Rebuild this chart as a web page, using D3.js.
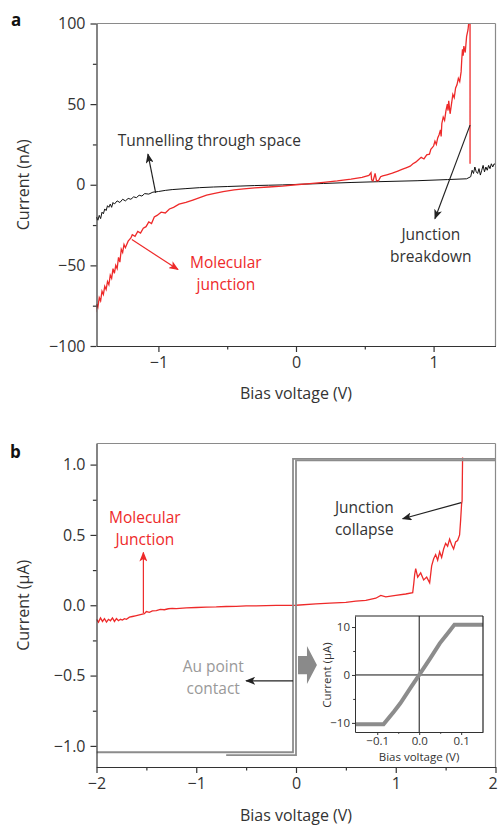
<!DOCTYPE html>
<html>
<head>
<meta charset="utf-8">
<script src="https://cdn.jsdelivr.net/npm/d3@7"></script>
<style>
body{margin:0;background:#fff}
text{font-family:"Open Sans",sans-serif}
</style>
</head>
<body>
<svg id="chart" width="499" height="830"></svg>
<script>
// ---- data: panel a, [bias V, current nA]
const molecularA = [[-1.455,-79],[-1.45,-74],[-1.44,-76],[-1.43,-70],[-1.42,-72],[-1.41,-66],[-1.40,-68],[-1.39,-63],[-1.38,-65],[-1.37,-60],[-1.36,-62],[-1.35,-56],[-1.34,-58],[-1.33,-52],[-1.32,-55],[-1.31,-50],[-1.30,-52],[-1.29,-45],[-1.28,-48],[-1.27,-40],[-1.26,-42],[-1.25,-37],[-1.24,-39],[-1.22,-35],[-1.20,-33],[-1.19,-31],[-1.17,-32],[-1.15,-29],[-1.13,-30],[-1.11,-27],[-1.09,-26],[-1.07,-23],[-1.05,-24],[-1.03,-20],[-1.01,-19],[-0.98,-17],[-0.95,-17.5],[-0.92,-15],[-0.89,-14],[-0.85,-12],[-0.80,-11],[-0.75,-9.5],[-0.70,-8],[-0.65,-6.5],[-0.60,-5.5],[-0.53,-4.2],[-0.45,-3.2],[-0.38,-2.6],[-0.30,-2.0],[-0.20,-1.4],[-0.10,-0.8],[0,0],[0.1,0.7],[0.2,1.5],[0.3,2.4],[0.4,3.5],[0.48,4.6],[0.53,5.8],[0.545,7.5],[0.55,3],[0.56,2.4],[0.575,7],[0.585,2.5],[0.60,2.6],[0.615,5],[0.63,5.5],[0.66,6.2],[0.70,7.2],[0.74,8.5],[0.77,9.5],[0.80,10.5],[0.83,11.5],[0.85,13],[0.87,14],[0.89,15.5],[0.91,17],[0.93,16],[0.95,18.5],[0.97,19],[0.98,22],[1.0,24],[1.01,27],[1.02,25],[1.03,29],[1.04,31],[1.05,34],[1.055,30],[1.06,38],[1.07,42],[1.08,40],[1.09,46],[1.10,50],[1.105,46],[1.11,52],[1.12,44],[1.13,50],[1.14,56],[1.15,54],[1.16,60],[1.17,62],[1.18,66],[1.19,64],[1.20,70],[1.205,78],[1.21,84],[1.215,80],[1.22,86],[1.23,82],[1.24,92],[1.25,96],[1.26,104],[1.265,104],[1.265,13]];
const tunnelA = [[-1.455,-22],[-1.45,-20],[-1.44,-22],[-1.43,-19],[-1.42,-21],[-1.41,-17],[-1.40,-18],[-1.39,-15],[-1.38,-16],[-1.37,-13],[-1.36,-14],[-1.35,-12],[-1.34,-14],[-1.33,-11],[-1.32,-12],[-1.30,-10],[-1.28,-11],[-1.26,-9],[-1.24,-10],[-1.22,-8.5],[-1.20,-9],[-1.18,-7.5],[-1.16,-8],[-1.14,-6.5],[-1.12,-7],[-1.10,-5.5],[-1.07,-5.8],[-1.04,-4.6],[-1.0,-4.2],[-0.95,-3.5],[-0.9,-3.0],[-0.8,-2.4],[-0.7,-1.8],[-0.6,-1.4],[-0.5,-1.1],[-0.4,-0.8],[-0.3,-0.5],[-0.2,-0.3],[-0.1,-0.1],[0,0.2],[0.2,0.8],[0.4,1.4],[0.6,1.9],[0.88,2.5],[1.1,3.2],[1.24,3.7],[1.27,5],[1.28,9],[1.29,7],[1.30,11],[1.31,8],[1.32,7],[1.33,10],[1.34,6],[1.35,9],[1.36,12],[1.37,8],[1.38,11],[1.39,9],[1.40,12],[1.41,10],[1.42,13],[1.43,11],[1.44,13],[1.455,12]];

// ---- data: panel b, [bias V, current µA]
const molecularB = [[-2,-0.1],[-1.98,-0.12],[-1.96,-0.09],[-1.94,-0.115],[-1.92,-0.095],[-1.90,-0.12],[-1.88,-0.1],[-1.86,-0.11],[-1.84,-0.09],[-1.82,-0.115],[-1.80,-0.095],[-1.78,-0.11],[-1.76,-0.1],[-1.74,-0.105],[-1.72,-0.095],[-1.70,-0.1],[-1.67,-0.085],[-1.64,-0.08],[-1.61,-0.075],[-1.58,-0.07],[-1.55,-0.065],[-1.52,-0.06],[-1.50,-0.045],[-1.47,-0.05],[-1.44,-0.04],[-1.40,-0.038],[-1.36,-0.03],[-1.32,-0.032],[-1.28,-0.025],[-1.24,-0.022],[-1.2,-0.024],[-1.1,-0.018],[-1.0,-0.016],[-0.9,-0.013],[-0.8,-0.012],[-0.7,-0.009],[-0.6,-0.008],[-0.5,-0.005],[-0.4,-0.004],[-0.2,-0.001],[0,0],[0.2,0.01],[0.34,0.015],[0.5,0.02],[0.6,0.03],[0.7,0.035],[0.8,0.05],[0.85,0.07],[0.9,0.06],[1.0,0.07],[1.1,0.08],[1.17,0.09],[1.18,0.15],[1.19,0.22],[1.2,0.26],[1.22,0.2],[1.25,0.23],[1.28,0.18],[1.31,0.2],[1.34,0.16],[1.36,0.28],[1.38,0.33],[1.40,0.36],[1.42,0.32],[1.44,0.38],[1.46,0.34],[1.48,0.4],[1.5,0.44],[1.52,0.42],[1.54,0.47],[1.56,0.43],[1.58,0.4],[1.60,0.45],[1.62,0.46],[1.64,0.5],[1.65,0.6],[1.66,0.72],[1.665,0.74],[1.67,1.05]];
const auContact1 = [[-2,-1.045],[-0.03,-1.045],[-0.03,1.04],[2,1.04]];
const auContact2 = [[-0.7,-1.065],[0,-1.065],[0,1.03],[2,1.03]];
// inset, [bias V, current µA]
const insetAu = [[-0.153,-10.3],[-0.085,-10.3],[-0.06,-7.6],[-0.045,-5.9],[-0.02,-2.6],[0,0],[0.025,3.3],[0.049,6.6],[0.07,8.9],[0.084,10.5],[0.152,10.5]];

// ---- ticks
const ticksAx = [-1, 0, 1], minorAx = [-0.5, 0.5];
const ticksAy = [-100, -50, 0, 50, 100], minorAy = [-75, -25, 25, 75];
const ticksBx = [-2, -1, 0, 1, 2], minorBx = [-1.5, -0.5, 0.5, 1.5];
const ticksBy = [-1.0, -0.5, 0.0, 0.5, 1.0], minorBy = [-0.75, -0.25, 0.25, 0.75];
const ticksIx = [-0.1, 0.0, 0.1], minorIx = [-0.05, 0.05];
const ticksIy = [-10, 0, 10], minorIy = [-5, 5];

const RED = "#ee2a2a", INK = "#333", FRAME = "#8a8a8a", AU = "#8c8c8c";

const svg = d3.select("#chart");
const defs = svg.append("defs");
function marker(id, color) {
  defs.append("marker").attr("id", id).attr("viewBox", "0 0 10 8")
    .attr("refX", 9).attr("refY", 4).attr("markerWidth", 10).attr("markerHeight", 8)
    .attr("markerUnits", "userSpaceOnUse").attr("orient", "auto")
    .append("path").attr("d", "M0,0 L10,4 L0,8 L2.5,4 Z").attr("fill", color);
}
marker("arrBlack", "#222");
marker("arrRed", RED);

function frame(g, x, y, o) {
  const [x0, x1] = x.range(), [y1, y0] = y.range();
  g.append("line").attr("x1", x0).attr("x2", x1).attr("y1", y0).attr("y2", y0).attr("stroke", o.frame).attr("stroke-width", 1.2);
  g.append("line").attr("x1", x1).attr("x2", x1).attr("y1", y0).attr("y2", y1).attr("stroke", o.frame).attr("stroke-width", 1.2);
  const ax = g.append("g").attr("transform", `translate(0,${y1})`)
    .call(d3.axisBottom(x).tickValues(o.tx).tickSize(o.ts).tickSizeOuter(0).tickPadding(o.pad).tickFormat(o.fx));
  g.append("g").attr("transform", `translate(0,${y1})`)
    .call(d3.axisBottom(x).tickValues(o.mx).tickSize(o.ts * 0.6).tickSizeOuter(0).tickFormat(""))
    .select(".domain").remove();
  g.append("g").attr("transform", `translate(${x0},0)`)
    .call(d3.axisLeft(y).tickValues(o.ty).tickSize(o.ts).tickSizeOuter(0).tickPadding(o.pad).tickFormat(o.fy));
  g.append("g").attr("transform", `translate(${x0},0)`)
    .call(d3.axisLeft(y).tickValues(o.my).tickSize(o.ts * 0.6).tickSizeOuter(0).tickFormat(""))
    .select(".domain").remove();
  g.selectAll(".tick line, .domain").attr("stroke", INK).attr("stroke-width", o.sw);
  g.selectAll(".tick text").attr("fill", INK).attr("font-size", o.fs).attr("font-family", '"Open Sans",sans-serif');
  return ax;
}

const fmtMinus = d => d3.format("")(d);
const line = (x, y) => d3.line().x(d => x(d[0])).y(d => y(d[1]));

// ================= panel a
const xa = d3.scaleLinear().domain([-1.45, 1.45]).range([96.5, 495.5]);
const ya = d3.scaleLinear().domain([-100, 100]).range([346, 23.5]);
const ga = svg.append("g");
defs.append("clipPath").attr("id", "clipA").append("rect")
  .attr("x", 96.5).attr("y", 23.5).attr("width", 399).attr("height", 322.5);
ga.append("path").datum(tunnelA).attr("d", line(xa, ya)).attr("fill", "none")
  .attr("stroke", "#111").attr("stroke-width", 1).attr("clip-path", "url(#clipA)");
ga.append("path").datum(molecularA).attr("d", line(xa, ya)).attr("fill", "none")
  .attr("stroke", RED).attr("stroke-width", 1.3).attr("clip-path", "url(#clipA)");
frame(ga, xa, ya, {frame: FRAME, tx: ticksAx, mx: minorAx, ty: ticksAy, my: minorAy, ts: 6, pad: 5, fs: 16, sw: 1.2, fx: fmtMinus, fy: fmtMinus});

ga.append("text").attr("x", 296).attr("y", 399).attr("text-anchor", "middle").attr("font-size", 16).attr("fill", INK).text("Bias voltage (V)");
ga.append("text").attr("transform", `translate(29,${ya(0)}) rotate(-90)`).attr("text-anchor", "middle").attr("font-size", 16).attr("fill", INK).text("Current (nA)");
ga.append("text").attr("x", 11).attr("y", 26).attr("font-size", 17).attr("font-weight", "bold").attr("fill", "#111").text("a");

const notesA = [
  {lines: ["Tunnelling through space"], v: -0.63, i: 24, color: INK},
  {lines: ["Molecular", "junction"], v: -0.51, i: -51.5, color: RED},
  {lines: ["Junction", "breakdown"], v: 0.98, i: -34, color: INK}
];
const arrowsA = [
  {from: [-1.02, -5], to: [-1.076, 19], m: "arrBlack", c: "#222"},
  {from: [-1.193, -34], to: [-0.858, -52.6], m: "arrRed", c: RED},
  {from: [1.265, 37], to: [1.01, -21], m: "arrBlack", c: "#222"}
];

// ================= panel b
const xb = d3.scaleLinear().domain([-2, 2]).range([96.5, 495.5]);
const yb = d3.scaleLinear().domain([-1.15, 1.15]).range([767, 443.5]);
const gb = svg.append("g");
defs.append("clipPath").attr("id", "clipB").append("rect")
  .attr("x", 96.5).attr("y", 443.5).attr("width", 399).attr("height", 323.5);
gb.append("path").datum(molecularB).attr("d", line(xb, yb)).attr("fill", "none")
  .attr("stroke", RED).attr("stroke-width", 1.3).attr("clip-path", "url(#clipB)");
[auContact2, auContact1].forEach(tr => {
  gb.append("path").datum(tr).attr("d", line(xb, yb)).attr("fill", "none")
    .attr("stroke", AU).attr("stroke-width", 1.8).attr("clip-path", "url(#clipB)");
});
const axb = frame(gb, xb, yb, {frame: FRAME, tx: ticksBx, mx: minorBx, ty: ticksBy, my: minorBy, ts: 6, pad: 5, fs: 16, sw: 1.2, fx: fmtMinus, fy: d3.format(".1f")});
// last label sits on the page edge, pull it in a little
axb.selectAll(".tick text").filter(d => d === 2).attr("dx", -3);

gb.append("text").attr("x", 296).attr("y", 821).attr("text-anchor", "middle").attr("font-size", 16).attr("fill", INK).text("Bias voltage (V)");
gb.append("text").attr("transform", `translate(29,${yb(0)}) rotate(-90)`).attr("text-anchor", "middle").attr("font-size", 16).attr("fill", INK).text("Current (μA)");
gb.append("text").attr("x", 10).attr("y", 458).attr("font-size", 17).attr("font-weight", "bold").attr("fill", "#111").text("b");

const notesB = [
  {lines: ["Molecular", "Junction"], v: -1.515, i: 0.587, color: RED},
  {lines: ["Junction", "collapse"], v: 0.685, i: 0.657, color: INK},
  {lines: ["Au point", "contact"], v: -0.83, i: -0.473, color: "#999"}
];
const arrowsB = [
  {from: [-1.53, -0.055], to: [-1.53, 0.375], m: "arrRed", c: RED},
  {from: [1.657, 0.73], to: [1.07, 0.615], m: "arrBlack", c: "#222"},
  {from: [-0.03, -0.537], to: [-0.5, -0.537], m: "arrBlack", c: "#222"}
];

function drawNotes(g, x, y, notes, arrows) {
  notes.forEach(n => {
    const t = g.append("text").attr("x", x(n.v)).attr("y", y(n.i)).attr("text-anchor", "middle")
      .attr("font-size", 15.5).attr("fill", n.color);
    n.lines.forEach((s, k) => t.append("tspan").attr("x", x(n.v)).attr("dy", k ? 22 : 0).text(s));
  });
  arrows.forEach(a => {
    g.append("line").attr("x1", x(a.from[0])).attr("y1", y(a.from[1]))
      .attr("x2", x(a.to[0])).attr("y2", y(a.to[1]))
      .attr("stroke", a.c).attr("stroke-width", 1.2).attr("marker-end", `url(#${a.m})`);
  });
}
drawNotes(ga, xa, ya, notesA, arrowsA);
drawNotes(gb, xb, yb, notesB, arrowsB);

// block arrow pointing to the inset, in panel b data units
const blockArrow = [[0.02, -0.36], [0.11, -0.36], [0.11, -0.29], [0.21, -0.425], [0.11, -0.56], [0.11, -0.49], [0.02, -0.49]];
gb.append("path").attr("d", d3.line().x(d => xb(d[0])).y(d => yb(d[1]))(blockArrow) + "Z").attr("fill", "#8a8a8a");

// ================= inset
const xi = d3.scaleLinear().domain([-0.153, 0.152]).range([355, 483]);
const yi = d3.scaleLinear().domain([-11.9, 12.3]).range([732, 616]);
const gi = svg.append("g");
gi.append("rect").attr("x", 355).attr("y", 616).attr("width", 128).attr("height", 116).attr("fill", "#fff");
gi.append("line").attr("x1", xi(0)).attr("x2", xi(0)).attr("y1", 616).attr("y2", 732).attr("stroke", "#111").attr("stroke-width", 1);
gi.append("line").attr("x1", 355).attr("x2", 483).attr("y1", yi(0)).attr("y2", yi(0)).attr("stroke", "#111").attr("stroke-width", 1);
defs.append("clipPath").attr("id", "clipI").append("rect").attr("x", 355).attr("y", 616).attr("width", 128).attr("height", 116);
gi.append("path").datum(insetAu).attr("d", line(xi, yi)).attr("fill", "none")
  .attr("stroke", "#8c8c8c").attr("stroke-width", 4).attr("clip-path", "url(#clipI)");
frame(gi, xi, yi, {frame: "#222", tx: ticksIx, mx: minorIx, ty: ticksIy, my: minorIy, ts: 3, pad: 2, fs: 11.5, sw: 1, fx: d3.format(".1f"), fy: fmtMinus});
gi.append("text").attr("x", 419).attr("y", 761).attr("text-anchor", "middle").attr("font-size", 11.5).attr("fill", INK).text("Bias voltage (V)");
gi.append("text").attr("transform", `translate(331,${yi(0)}) rotate(-90)`).attr("text-anchor", "middle").attr("font-size", 11.5).attr("fill", INK).text("Current (μA)");
</script>
</body>
</html>
